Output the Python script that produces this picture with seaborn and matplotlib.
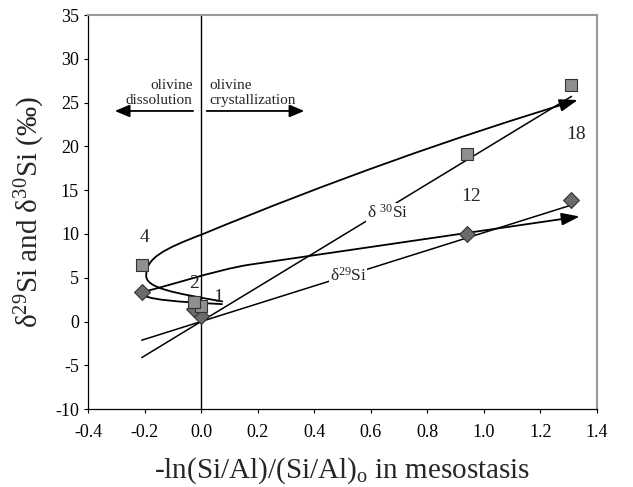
import numpy as np
import pandas as pd
import seaborn as sns
import matplotlib
matplotlib.use("Agg")
import matplotlib.pyplot as plt
from matplotlib.path import Path
from matplotlib.patches import FancyArrowPatch

# ---- data ----
samples = ["1", "2", "4", "12", "18"]
x_vals = [0.0, -0.025, -0.21, 0.94, 1.31]
d30_vals = [1.8, 2.2, 6.5, 19.1, 27.0]
d29_vals = [0.6, 1.4, 3.4, 10.0, 13.9]

xticks = [-0.4, -0.2, 0.0, 0.2, 0.4, 0.6, 0.8, 1.0, 1.2, 1.4]
yticks = [-10, -5, 0, 5, 10, 15, 20, 25, 30, 35]

# schematic evolution arrows: start point followed by cubic Bezier triples
path30_x = [0.075, -0.092, -0.198, -0.194, -0.194, -0.134, 0.007, 0.449, 0.89, 1.332]
path30_y = [2.3, 3.24, 3.81, 5.3, 7.24, 8.27, 10.0, 15.9, 21.0, 25.3]
path29_x = [0.074, -0.057, -0.216, -0.212, -0.15, 0.053, 0.173, 0.563, 0.951, 1.339]
path29_y = [1.99, 2.22, 2.44, 3.36, 3.7, 5.93, 6.5, 8.34, 10.17, 12.0]

# ---- style ----
sns.set_style("ticks")
plt.rcParams["font.family"] = ["Liberation Serif", "DejaVu Serif"]
plt.rcParams["mathtext.fontset"] = "custom"
plt.rcParams["mathtext.rm"] = "Liberation Serif"
plt.rcParams["mathtext.it"] = "Liberation Serif:italic"

fig = plt.figure(figsize=(6.33, 4.87), dpi=100)
ax = fig.add_axes([0.139, 0.160, 0.804, 0.809])

df = pd.DataFrame({
    "x": x_vals * 2,
    "delta": d29_vals + d30_vals,
    "isotope": ["d29"] * len(x_vals) + ["d30"] * len(x_vals),
    "sample": samples * 2,
})

# regression lines through origin
xs = np.array(x_vals)
lines = []
for iso, vals in (("d30", d30_vals), ("d29", d29_vals)):
    v = np.array(vals)
    slope = np.sum(xs * v) / np.sum(xs * xs)
    ends = np.array([xs.min(), xs.max()])
    lines.append(pd.DataFrame({"x": ends, "y": slope * ends, "iso": iso}))
ldf = pd.concat(lines)
sns.lineplot(data=ldf, x="x", y="y", units="iso", estimator=None, color="black",
             lw=1.1, ax=ax, zorder=2)

ax.axvline(0, color="black", lw=1.0, zorder=1)


def bezier_path(px, py):
    verts = list(zip(px, py))
    codes = [Path.MOVETO] + [Path.CURVE4] * (len(verts) - 1)
    return Path(verts, codes)


for px, py in ((path30_x, path30_y), (path29_x, path29_y)):
    arr = FancyArrowPatch(path=bezier_path(px, py),
                          arrowstyle="-|>,head_length=1.1,head_width=0.38",
                          mutation_scale=10, color="black", lw=1.3, zorder=3)
    ax.add_patch(arr)

# markers
sns.scatterplot(data=df[df.isotope == "d29"], x="x", y="delta", marker="D",
                s=65, color="#6b6b6b", edgecolor="#333333", linewidth=0.8,
                ax=ax, zorder=4, legend=False)
sns.scatterplot(data=df[df.isotope == "d30"], x="x", y="delta", marker="s",
                s=68, color="#8f8f8f", edgecolor="#333333", linewidth=0.8,
                ax=ax, zorder=5, legend=False)

# sample labels
label_pos = {"1": (0.06, 2.7), "2": (-0.025, 4.3), "4": (-0.2, 9.6),
             "12": (0.955, 14.3), "18": (1.325, 21.4)}
for s in samples:
    lx, ly = label_pos[s]
    ax.text(lx, ly, s, fontsize=14, ha="center", va="center", zorder=6)

# line labels with white background (gap in line)
ax.text(0.66, 12.4, "δ $^{30}$Si", fontsize=12.5, ha="center", va="center",
        bbox=dict(facecolor="white", edgecolor="none", pad=0.5), zorder=2.5)
ax.text(0.52, 5.2, "δ$^{29}$Si", fontsize=12.5, ha="center", va="center",
        bbox=dict(facecolor="white", edgecolor="none", pad=0.5), zorder=2.5)

# olivine annotations
ax.text(-0.03, 27.0, "olivine", fontsize=11, ha="right", va="center")
ax.text(-0.03, 25.3, "dissolution", fontsize=11, ha="right", va="center")
ax.text(0.03, 27.0, "olivine", fontsize=11, ha="left", va="center")
ax.text(0.03, 25.3, "crystallization", fontsize=11, ha="left", va="center")
for x0, x1 in ((-0.028, -0.305), (0.02, 0.365)):
    ax.annotate("", xy=(x1, 24.05), xytext=(x0, 24.05),
                arrowprops=dict(arrowstyle="-|>,head_length=0.9,head_width=0.38",
                                color="black", lw=1.3, mutation_scale=10,
                                shrinkA=0, shrinkB=0))

# axes
ax.set_xlim(-0.4, 1.4)
ax.set_ylim(-10, 35)
ax.set_xticks(xticks)
ax.set_xticklabels([f"{t:.1f}" for t in xticks])
ax.set_yticks(yticks)
ax.set_yticklabels([str(t) for t in yticks])
ax.tick_params(axis="both", labelsize=13, direction="out", length=3, width=0.8,
               colors="black")
ax.tick_params(axis="x", pad=8)
for side in ("top", "right"):
    ax.spines[side].set_visible(True)
    ax.spines[side].set_color("#999999")
    ax.spines[side].set_linewidth(1.5)
for side in ("left", "bottom"):
    ax.spines[side].set_color("black")
    ax.spines[side].set_linewidth(0.9)

ax.set_xlabel("-ln(Si/Al)/(Si/Al)$_{\\mathrm{o}}$ in mesostasis", fontsize=21,
              labelpad=10)
ax.set_ylabel("δ$^{29}$Si and δ$^{30}$Si (‰)", fontsize=21, labelpad=6)

fig.savefig("out.png", dpi=100)
